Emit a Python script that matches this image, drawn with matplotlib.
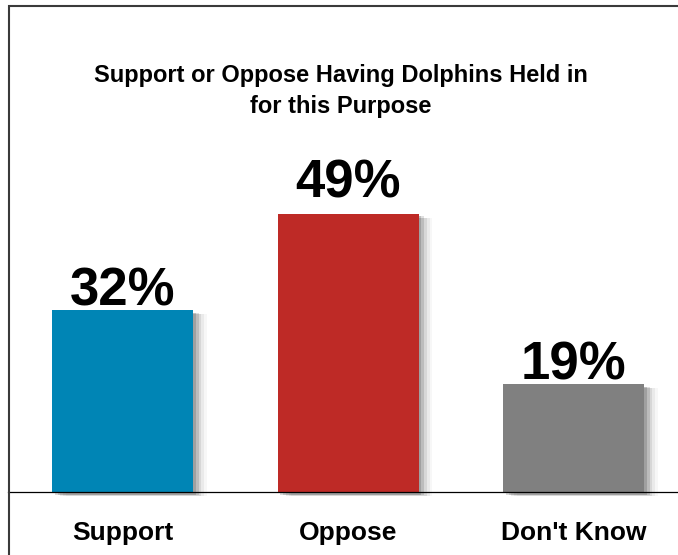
import matplotlib
matplotlib.use("Agg")
import matplotlib.pyplot as plt
import matplotlib.patheffects as pe
from matplotlib.patches import Rectangle

# data
categories = ["Support", "Oppose", "Don't Know"]
values = [32, 49, 19]
colors = ["#0085B5", "#BE2A26", "#808080"]
title_lines = ["Support or Oppose Having Dolphins Held in", "for this Purpose"]

plt.rcParams['font.family'] = ['Liberation Sans', 'DejaVu Sans']

W, H = 678, 555
fig = plt.figure(figsize=(W / 100, H / 100), dpi=100)
fig.patch.set_facecolor('white')

# axes: baseline at y=492px, 5.69 px per percent
ax = fig.add_axes([8 / W, 63 / H, 1 - 8 / W, 341 / H])
ax.set_xlim(-0.508, 2.463)
ax.set_ylim(0, 60)

# soft shadow to the right of each bar
shadow = [
    pe.SimplePatchShadow(offset=(10, -3), shadow_rgbFace='black', alpha=0.03),
    pe.SimplePatchShadow(offset=(8, -3), shadow_rgbFace='black', alpha=0.05),
    pe.SimplePatchShadow(offset=(6, -3), shadow_rgbFace='black', alpha=0.08),
    pe.SimplePatchShadow(offset=(4, -2), shadow_rgbFace='black', alpha=0.12),
    pe.SimplePatchShadow(offset=(2, -2), shadow_rgbFace='black', alpha=0.15),
    pe.Normal(),
]

bars = ax.bar(range(len(values)), values, width=0.625, color=colors, zorder=3)
for b in bars:
    b.set_path_effects(shadow)
    b.set_clip_on(False)

# percentage labels (pixel gap above each bar top)
label_pad_px = [5, 16, 5]
for i, v in enumerate(values):
    ax.annotate(f"{v}%", xy=(i, v), xytext=(0, label_pad_px[i] * 0.72),
                textcoords='offset points', ha='center', va='baseline',
                fontsize=38, fontweight='bold', color='black', zorder=4)

ax.set_xticks(range(len(categories)))
ax.set_xticklabels(categories, fontsize=19, fontweight='bold')
ax.tick_params(axis='x', length=0, pad=21)
ax.set_yticks([])

for s in ['left', 'top', 'right']:
    ax.spines[s].set_visible(False)
ax.spines['bottom'].set_color('black')
ax.spines['bottom'].set_linewidth(0.9)
ax.spines['bottom'].set_zorder(5)

fig.text(341 / W, 1 - 82 / H, title_lines[0], ha='center', va='baseline',
         fontsize=17, fontweight='bold')
fig.text(341 / W, 1 - 113 / H, title_lines[1], ha='center', va='baseline',
         fontsize=17, fontweight='bold')

# outer chart frame (only left and top edges fall inside the image)
fig.add_artist(Rectangle((9 / W, -0.5), 2, 1 - 6 / H + 0.5,
                         transform=fig.transFigure, fill=False,
                         linewidth=1.5, edgecolor='#3a3a3a'))

fig.savefig("out.png", dpi=100)
